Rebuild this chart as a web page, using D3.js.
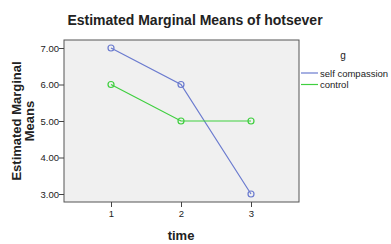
<!DOCTYPE html>
<html>
<head>
<meta charset="utf-8">
<script src="https://cdn.jsdelivr.net/npm/d3@7"></script>
<style>
  body { margin: 0; background: #fff; }
  text { font-family: "Liberation Sans", Arial, sans-serif; }
</style>
</head>
<body>
<svg id="svg"></svg>
<script>
const width = 391;
const height = 244;

// data
const times = [1, 2, 3];
const groups = ["self compassion", "control"];
const selfCompassion = [7, 6, 3];
const control = [6, 5, 5];
const yTicks = [3, 4, 5, 6, 7];
const colours = ["#6b7bcf", "#3fcf3f"];

const plot = { left: 64, top: 40, right: 299, bottom: 202 };

let svg = d3.select("#svg")
    .attr("width", width)
    .attr("height", height);

let xScale = d3.scalePoint()
    .domain(times)
    .range([111, 251]);

let yScale = d3.scaleLinear()
    .domain([3, 7])
    .range([194, 48]);

// plot background
svg.append("rect")
    .attr("x", plot.left)
    .attr("y", plot.top)
    .attr("width", plot.right - plot.left)
    .attr("height", plot.bottom - plot.top)
    .attr("fill", "#f0f0f0")
    .attr("stroke", "#555")
    .attr("stroke-width", 1);

// y axis
let yAxis = svg.append("g")
    .attr("transform", `translate(${plot.left}, 0)`)
    .call(d3.axisLeft(yScale).tickValues(yTicks).tickFormat(d3.format(".2f")).tickSize(5).tickSizeOuter(0));
yAxis.select(".domain").remove();
yAxis.selectAll("line").attr("stroke", "#444");
yAxis.selectAll("text")
    .attr("font-size", "9.5px")
    .attr("x", -5)
    .style("fill", "#222");

// x axis
let xAxis = svg.append("g")
    .attr("transform", `translate(0, ${plot.bottom})`)
    .call(d3.axisBottom(xScale).tickSize(5).tickSizeOuter(0));
xAxis.select(".domain").remove();
xAxis.selectAll("line").attr("stroke", "#444");
xAxis.selectAll("text")
    .attr("font-size", "9.5px")
    .attr("y", 8)
    .style("fill", "#222");

// lines
const series = [selfCompassion, control];
const line = d3.line()
    .x((d, i) => xScale(times[i]))
    .y(d => yScale(d));

series.forEach((values, k) => {
    svg.append("path")
        .datum(values)
        .attr("d", line)
        .attr("fill", "none")
        .attr("stroke", colours[k])
        .attr("stroke-width", 1.2);

    svg.selectAll(".pt" + k)
        .data(values)
        .enter()
        .append("circle")
            .attr("class", "pt" + k)
            .attr("cx", (d, i) => xScale(times[i]))
            .attr("cy", d => yScale(d))
            .attr("r", 3)
            .attr("fill", "none")
            .attr("stroke", colours[k])
            .attr("stroke-width", 1.2);
});

// title
svg.append("text")
    .text("Estimated Marginal Means of hotsever")
    .attr("x", 195)
    .attr("y", 25)
    .attr("text-anchor", "middle")
    .attr("font-weight", "bold")
    .attr("font-size", "14px")
    .style("fill", "#222");

// y label
let yLabel = svg.append("text")
    .attr("transform", "rotate(-90)")
    .attr("text-anchor", "middle")
    .attr("font-weight", "bold")
    .attr("font-size", "13px")
    .style("fill", "#222");
yLabel.append("tspan").text("Estimated Marginal").attr("x", -121).attr("y", 21);
yLabel.append("tspan").text("Means").attr("x", -121).attr("y", 34);

// x label
svg.append("text")
    .text("time")
    .attr("x", 181)
    .attr("y", 240)
    .attr("text-anchor", "middle")
    .attr("font-weight", "bold")
    .attr("font-size", "13px")
    .style("fill", "#222");

// legend
svg.append("text")
    .text("g")
    .attr("x", 343)
    .attr("y", 59)
    .attr("text-anchor", "middle")
    .attr("font-size", "10px")
    .style("fill", "#222");

groups.forEach((g, k) => {
    let y = 73 + k * 11.5;
    svg.append("line")
        .attr("x1", 301).attr("x2", 318)
        .attr("y1", y).attr("y2", y)
        .attr("stroke", colours[k])
        .attr("stroke-width", 1.2);
    svg.append("text")
        .text(g)
        .attr("x", 320)
        .attr("y", y + 3.5)
        .attr("font-size", "9.5px")
        .style("fill", "#222");
});
</script>
</body>
</html>
